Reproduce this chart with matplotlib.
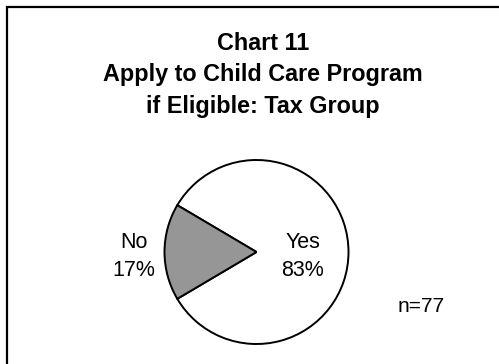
import numpy as np
import matplotlib.pyplot as plt
from matplotlib.patches import Rectangle

plt.rcParams['font.family'] = ['Liberation Sans', 'DejaVu Sans']

answers = ["Yes", "No"]
percents = [83, 17]
n_total = 77
title = "Chart 11\nApply to Child Care Program\nif Eligible: Tax Group"

W, H = 499, 364
fig = plt.figure(figsize=(W / 100, H / 100), dpi=100)
fig.patch.set_facecolor("white")

# chart frame (runs off the right and bottom edges)
fig.patches.append(Rectangle((6.5 / W, -0.1), 1.2, (H - 6.5) / H + 0.1,
                             transform=fig.transFigure, fill=False,
                             edgecolor="black", linewidth=1.6))

fig.text(263 / W, 1 - 75 / H, title, ha="center", va="center",
         fontsize=16.8, fontweight="bold", linespacing=1.45)

r = 92
cx, cy = 256.5, 252
ax = fig.add_axes([(cx - r) / W, (H - cy - r) / H, 2 * r / W, 2 * r / H])
# keep the "No" slice centred on the left side
start = 180 - percents[1] / 100 * 360 / 2 - percents[0] / 100 * 360
wedges, _ = ax.pie(percents, colors=["white", "#969696"], startangle=start,
                   counterclock=True,
                   wedgeprops=dict(edgecolor="black", linewidth=1.4))
ax.set_xlim(-1, 1)
ax.set_ylim(-1, 1)

label_dist = [0.5, 1.33]
for w, name, p, d in zip(wedges, answers, percents, label_dist):
    mid = np.deg2rad((w.theta1 + w.theta2) / 2)
    ax.text(d * np.cos(mid), d * np.sin(mid) - 0.05, f"{name}\n{p}%",
            ha="center", va="center", fontsize=15.5, linespacing=1.42)

fig.text(421 / W, 1 - 307 / H, f"n={n_total}", ha="center", va="center",
         fontsize=15)

fig.savefig("out.png", dpi=100)
